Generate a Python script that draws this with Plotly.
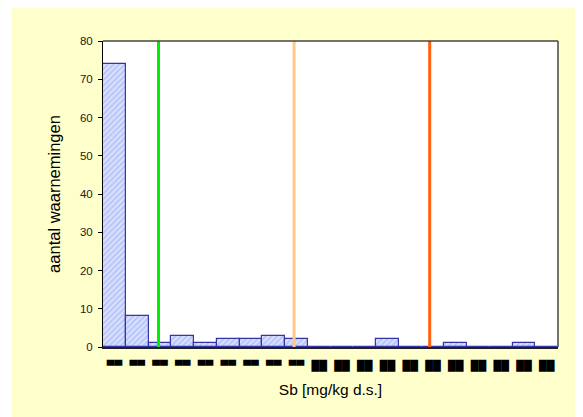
import plotly.graph_objects as go

# bin index positions and counts
bins = list(range(20))
counts = [74, 8, 1, 3, 1, 2, 2, 3, 2, 0, 0, 0, 2, 0, 0, 1, 0, 0, 1, 0]
# tick labels are rendered as filled black boxes in the original
tick_labels = ["▀▀"] * 9 + ["██"] * 11

# threshold lines, in bin-axis units
threshold_x = [1.94, 7.90, 13.86]
threshold_colors = ["#00EE00", "#FFC88A", "#FF6010"]
y_max = 80

W, H = 575, 409
L, R, T, B = 95, 25, 33, 70
plot_w = W - L - R

fig = go.Figure()
fig.add_trace(go.Bar(
    x=bins, y=counts, width=1.0,
    marker=dict(
        color="#DCDCFF",
        line=dict(color="#3535A8", width=1.2),
        pattern=dict(shape="/", fgcolor="#6FA8F0", bgcolor="#DCDCFF", size=4, solidity=0.35),
    ),
    showlegend=False,
))
for tx, col in zip(threshold_x, threshold_colors):
    fig.add_trace(go.Scatter(x=[tx, tx], y=[0, y_max], mode="lines",
                             line=dict(color=col, width=3), showlegend=False,
                             hoverinfo="skip"))

fig.update_layout(
    width=W, height=H,
    paper_bgcolor="#FFFFCC", plot_bgcolor="white",
    margin=dict(l=L, r=R, t=T, b=B),
    font=dict(family="Liberation Sans, Arial, sans-serif", color="black", size=11),
    bargap=0,
)
fig.update_xaxes(
    range=[-0.5, 19.5], tickmode="array", tickvals=bins, ticktext=tick_labels,
    showline=True, linecolor="#222222", linewidth=2, mirror=False,
    ticks="outside", ticklen=8, tickcolor="rgba(0,0,0,0)",
    showgrid=False, zeroline=False,
    tickfont=dict(size=10, color="black", family="DejaVu Sans"),
    title=dict(text="Sb [mg/kg d.s.]", font=dict(size=15.5), standoff=13),
)
fig.update_yaxes(
    range=[0, y_max], dtick=10, ticks="outside", ticklen=4, tickcolor="black",
    ticklabelstandoff=3,
    showline=True, linecolor="black", linewidth=1, mirror=False,
    showgrid=False, zeroline=False,
    tickfont=dict(size=11.5, color="#222222"),
    title=dict(text="aantal waarnemingen", font=dict(size=16.5), standoff=15),
)
# top and right frame of plot area
fig.add_shape(type="line", xref="paper", yref="paper", x0=0, x1=1, y0=1, y1=1,
              line=dict(color="#444444", width=1.5))
fig.add_shape(type="line", xref="paper", yref="paper", x0=1, x1=1, y0=0, y1=1,
              line=dict(color="#444444", width=1.5))
# narrow white strip at the left edge of the page
fig.add_shape(type="rect", xref="paper", yref="paper",
              x0=-L / plot_w, x1=(4 - L) / plot_w, y0=-1, y1=2,
              fillcolor="white", line=dict(width=0), layer="below")

fig.write_html("out.html")
